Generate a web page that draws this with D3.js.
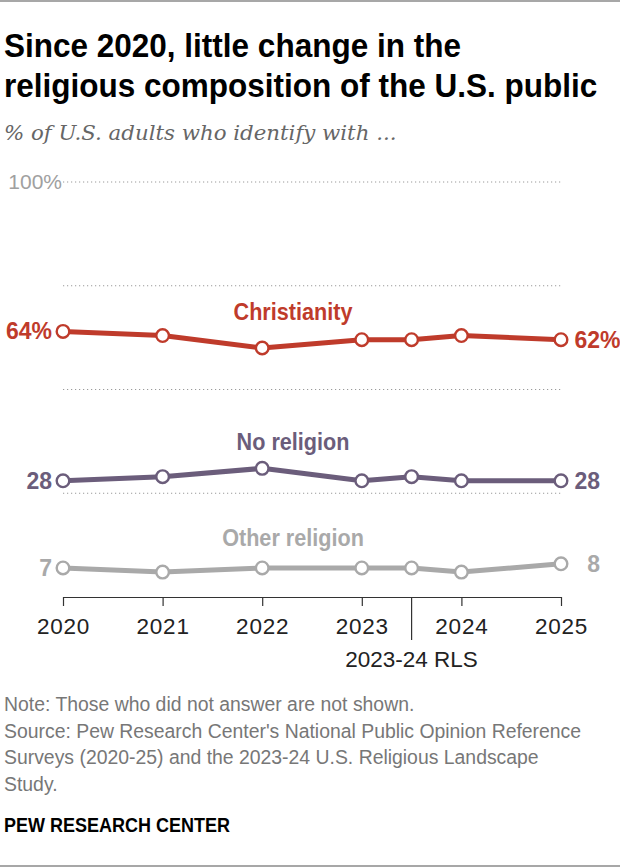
<!DOCTYPE html>
<html>
<head>
<meta charset="utf-8">
<script src="https://cdn.jsdelivr.net/npm/d3@7"></script>
<style>
  body { margin: 0; background: #fff; }
  .cond { font-family: "Liberation Sans", Arial, sans-serif; font-weight: bold; }
  .reg { font-family: "Liberation Sans", Arial, sans-serif; }
  .serif { font-family: "DejaVu Serif", Georgia, serif; }
</style>
</head>
<body>
<div id="chart-area"></div>
<script>

// data
const years = [2020, 2021, 2022, 2023, 2023.5, 2024, 2025];
const christianity = [64, 63, 60, 62, 62, 63, 62];
const noReligion = [28, 29, 31, 28, 29, 28, 28];
const otherReligion = [7, 6, 7, 7, 7, 6, 8];

const seriesNames = ["Christianity", "No religion", "Other religion"];
const seriesColors = ["#bf3b2b", "#6b5d7b", "#a9a9a9"];
const yearTicks = [2020, 2021, 2022, 2023, 2024, 2025];
const gridValues = [25, 50, 75, 100];
const rlsYear = 2023.5;
const rlsLabel = "2023-24 RLS";

const titleLines = ["Since 2020, little change in the", "religious composition of the U.S. public"];
const subtitle = "% of U.S. adults who identify with ...";
const noteLines = [
	"Note: Those who did not answer are not shown.",
	"Source: Pew Research Center's National Public Opinion Reference",
	"Surveys (2020-25) and the 2023-24 U.S. Religious Landscape",
	"Study."
];

let W = 620, H = 868;

let svg = d3.select("#chart-area").append("svg")
	.attr("width", W)
	.attr("height", H);

// helper: bold text, squeezed horizontally to look like a condensed face
function condText(parent, x, y, str, size, color, anchor, squeeze) {
	return parent.append("text")
		.attr("class", "cond")
		.attr("transform", "translate(" + x + "," + y + ") scale(" + squeeze + ",1)")
		.attr("text-anchor", anchor)
		.attr("font-size", size)
		.attr("fill", color)
		.text(str);
}

// frame lines
svg.append("line").attr("x1", 0).attr("x2", W).attr("y1", 1).attr("y2", 1)
	.attr("stroke", "#8a8a8a").attr("stroke-width", 1.5);
svg.append("line").attr("x1", 0).attr("x2", W).attr("y1", 866).attr("y2", 866)
	.attr("stroke", "#8a8a8a").attr("stroke-width", 1.5);

// title
titleLines.forEach((t, i) => {
	condText(svg, 4, 57 + i * 40, t, 33, "#000", "start", 0.955);
});

svg.append("text").attr("class", "serif").attr("x", 4).attr("y", 140)
	.attr("font-size", 21.3).attr("font-style", "italic").attr("fill", "#666")
	.text(subtitle);

// scales
let x = d3.scaleLinear().domain([2020, 2025]).range([63, 561]);
let y = d3.scaleLinear().domain([0, 100]).range([597, 182]);

// grid
svg.append("g").selectAll("line")
	.data(gridValues)
	.enter().append("line")
	.attr("x1", x(2020)).attr("x2", x(2025))
	.attr("y1", d => y(d)).attr("y2", d => y(d))
	.attr("stroke", "#9a9a9a").attr("stroke-width", 1.2)
	.attr("stroke-dasharray", "1.2,2.8");

svg.append("text").attr("class", "reg")
	.attr("x", x(2020) - 1).attr("y", y(100)).attr("dy", "0.35em")
	.attr("text-anchor", "end").attr("font-size", 21).attr("fill", "#a0a0a0")
	.text("100%");

// x axis
let xAxis = d3.axisBottom(x)
	.tickValues(yearTicks)
	.tickFormat(d3.format("d"))
	.tickSize(9)
	.tickSizeOuter(0)
	.tickPadding(12);

let gx = svg.append("g")
	.attr("transform", "translate(0," + y(0) + ")")
	.call(xAxis);
gx.select(".domain").attr("stroke", "#333").attr("stroke-width", 1.2);
gx.selectAll(".tick line").attr("stroke", "#333").attr("stroke-width", 1.2);
gx.selectAll(".tick text").attr("class", "reg").attr("font-size", 22.5)
	.attr("fill", "#222").attr("letter-spacing", 0.8);

// RLS marker
svg.append("line")
	.attr("x1", x(rlsYear)).attr("x2", x(rlsYear))
	.attr("y1", y(0)).attr("y2", y(0) + 43)
	.attr("stroke", "#333").attr("stroke-width", 1.2);
svg.append("text").attr("class", "reg")
	.attr("x", x(rlsYear)).attr("y", 667)
	.attr("text-anchor", "middle").attr("font-size", 22.5).attr("fill", "#222")
	.text(rlsLabel);

// lines
let allSeries = [christianity, noReligion, otherReligion];
let labelLift = [11, 31, 22];   // px above the first point for the series name
let line = d3.line()
	.x((d, i) => x(years[i]))
	.y(d => y(d));

allSeries.forEach((values, s) => {
	let color = seriesColors[s];
	let g = svg.append("g");

	g.append("path")
		.datum(values)
		.attr("d", line)
		.attr("fill", "none")
		.attr("stroke", color)
		.attr("stroke-width", 5)
		.attr("stroke-linejoin", "round");

	g.selectAll("circle")
		.data(values)
		.enter().append("circle")
		.attr("cx", (d, i) => x(years[i]))
		.attr("cy", d => y(d))
		.attr("r", 6.3)
		.attr("fill", "#fff")
		.attr("stroke", color)
		.attr("stroke-width", 2.4);

	// series name
	condText(g, 293, y(values[0]) - labelLift[s], seriesNames[s], 23, color, "middle", 0.94);

	// start / end values
	let first = values[0], last = values[values.length - 1];
	let pct = s == 0 ? "%" : "";
	condText(g, 52, y(first) + 8, first + pct, 23, color, "end", 1);
	condText(g, 600, y(last) + 8, last, 23, color, "end", 1);
	if (pct) condText(g, 600, y(last) + 8, pct, 23, color, "start", 1);
});

// notes
svg.append("g").selectAll("text")
	.data(noteLines)
	.enter().append("text")
	.attr("class", "reg")
	.attr("x", 4).attr("y", (d, i) => 711 + i * 26.5)
	.attr("font-size", 19.4).attr("fill", "#777")
	.text(d => d);

condText(svg, 4, 832, "PEW RESEARCH CENTER", 20, "#000", "start", 0.9);

</script>
</body>
</html>
